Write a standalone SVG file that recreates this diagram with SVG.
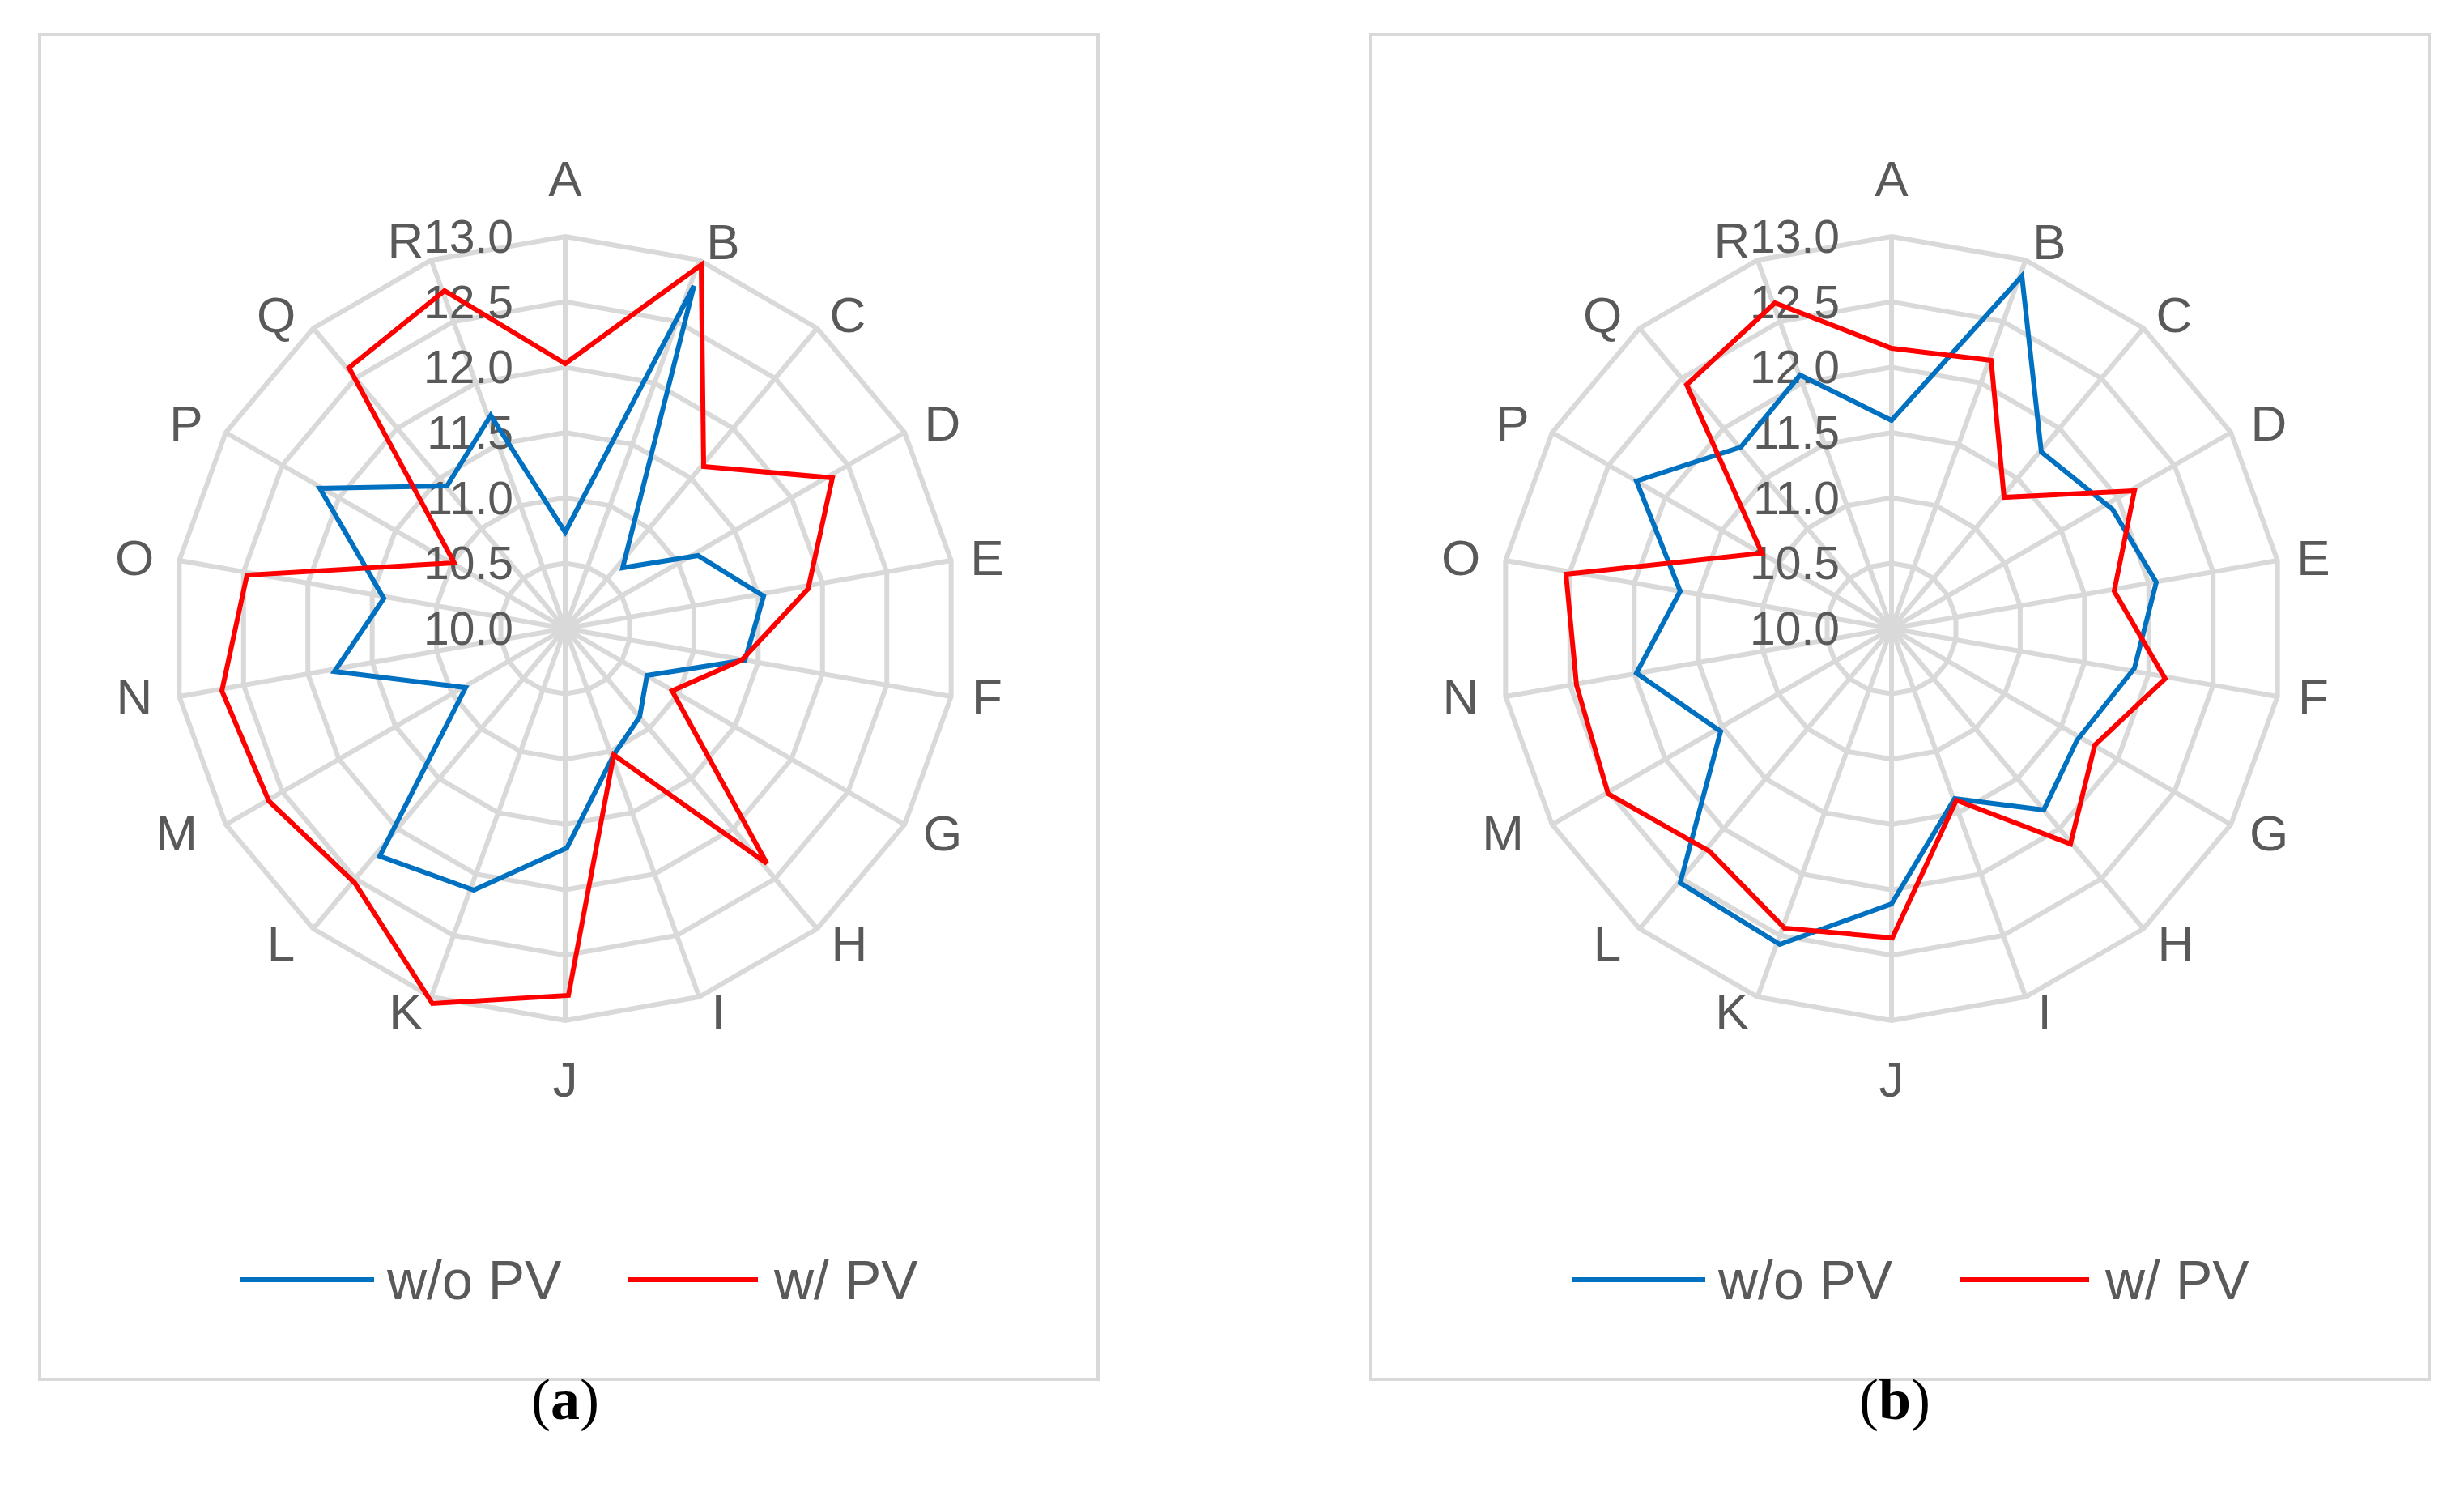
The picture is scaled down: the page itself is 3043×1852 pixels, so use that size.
<svg xmlns="http://www.w3.org/2000/svg" width="3043" height="1852" viewBox="0 0 3043 1852">
<style>
.box{fill:#fff;stroke:#d9d9d9;stroke-width:4}
.grid{fill:none;stroke:#d9d9d9;stroke-width:6}
.cat{font-family:"Liberation Sans",Arial,sans-serif;font-size:62px;fill:#595959;text-anchor:middle;dominant-baseline:central}
.ax{font-family:"Liberation Sans",Arial,sans-serif;font-size:57px;fill:#595959;text-anchor:end;dominant-baseline:central}
.leg{font-family:"Liberation Sans",Arial,sans-serif;font-size:68px;fill:#595959;dominant-baseline:central}
.blue{fill:none;stroke:#0070c0;stroke-width:6;stroke-linejoin:miter}
.red{fill:none;stroke:#ff0000;stroke-width:6;stroke-linejoin:miter}
.cap{font-family:"Liberation Serif","Times New Roman",serif;font-size:72px;fill:#000;text-anchor:middle;dominant-baseline:central}
</style>
<defs>
<polygon id="ring" points="0,-1 0.342,-0.9397 0.6428,-0.766 0.866,-0.5 0.9848,-0.1736 0.9848,0.1736 0.866,0.5 0.6428,0.766 0.342,0.9397 0,1 -0.342,0.9397 -0.6428,0.766 -0.866,0.5 -0.9848,0.1736 -0.9848,-0.1736 -0.866,-0.5 -0.6428,-0.766 -0.342,-0.9397" class="grid" vector-effect="non-scaling-stroke"/>
<g id="radar">
<g transform="scale(80.67)"><use href="#ring"/></g>
<g transform="scale(161.33)"><use href="#ring"/></g>
<g transform="scale(242)"><use href="#ring"/></g>
<g transform="scale(322.67)"><use href="#ring"/></g>
<g transform="scale(403.33)"><use href="#ring"/></g>
<g transform="scale(484)"><use href="#ring"/></g>
<path class="grid" d="M0,0L0,-484M0,0L165.5,-454.8M0,0L311.1,-370.7M0,0L419.1,-242M0,0L476.6,-84M0,0L476.6,84M0,0L419.1,242M0,0L311.1,370.7M0,0L165.5,454.8M0,0L0,484M0,0L-165.5,454.8M0,0L-311.1,370.7M0,0L-419.1,242M0,0L-476.6,84M0,0L-476.6,-84M0,0L-419.1,-242M0,0L-311.1,-370.7M0,0L-165.5,-454.8"/>
<text class="cat" x="0" y="-556">A</text><text class="cat" x="195" y="-478">B</text><text class="cat" x="349" y="-388">C</text><text class="cat" x="466" y="-254">D</text><text class="cat" x="521" y="-88">E</text><text class="cat" x="521" y="84">F</text><text class="cat" x="466" y="252">G</text><text class="cat" x="351" y="388">H</text><text class="cat" x="189" y="472">I</text><text class="cat" x="0" y="556">J</text><text class="cat" x="-197" y="472">K</text><text class="cat" x="-351" y="388">L</text><text class="cat" x="-480" y="252">M</text><text class="cat" x="-532" y="84">N</text><text class="cat" x="-532" y="-88">O</text><text class="cat" x="-468" y="-254">P</text><text class="cat" x="-357" y="-388">Q</text><text class="cat" x="-197" y="-480">R</text>
<text class="ax" x="-64" y="0">10.0</text><text class="ax" x="-64" y="-81">10.5</text><text class="ax" x="-64" y="-161">11.0</text><text class="ax" x="-64" y="-242">11.5</text><text class="ax" x="-64" y="-323">12.0</text><text class="ax" x="-64" y="-403">12.5</text><text class="ax" x="-64" y="-484">13.0</text>
</g>
</defs>
<rect width="3043" height="1852" fill="#fff"/>
<g id="chart-a">
<rect class="box" x="49" y="43" width="1307" height="1660"/>
<use href="#radar" x="698" y="776"/>
</g>
<g id="chart-b">
<rect class="box" x="1693" y="43" width="1307" height="1660"/>
<use href="#radar" x="2336" y="776"/>
</g>
<g id="connectors">
<polygon class="blue" points="698,657 857,353 769,701 862,686 943,736 920,815 799,834 790,885 758,932 700,1047 585,1099 469,1057 575,849 413,829 474,739 395,603 552,600 606,513"/>
<polygon class="red" points="698,449 866,327 869,576 1028,590 998,727 916,815 830,853 947,1066 758,932 702,1229 534,1239 438,1090 332,989 274,853 305,710 561,695 431,454 549,359"/>
<polygon class="blue" points="2336,519 2497,341 2521,558 2609,629 2663,719 2636,825 2565,914 2524,1000 2414,986 2336,1116 2198,1166 2075,1090 2125,903 2021,831 2075,730 2021,594 2150,552 2223,463"/>
<polygon class="red" points="2336,430 2459,445 2475,614 2636,606 2611,730 2674,838 2587,920 2557,1042 2416,988 2337,1158 2204,1146 2111,1051 1986,980 1947,846 1934,709 2176,683 2083,475 2192,374"/>
</g>
<g id="legend-a">
<line class="blue" x1="297" y1="1580" x2="462" y2="1580"/><text class="leg" x="478" y="1580">w/o PV</text>
<line class="red" x1="776" y1="1580" x2="936" y2="1580"/><text class="leg" x="956" y="1580">w/ PV</text>
</g>
<g id="legend-b">
<line class="blue" x1="1941" y1="1580" x2="2106" y2="1580"/><text class="leg" x="2122" y="1580">w/o PV</text>
<line class="red" x1="2420" y1="1580" x2="2580" y2="1580"/><text class="leg" x="2600" y="1580">w/ PV</text>
</g>
<text class="cap" x="698" y="1728">(<tspan font-weight="bold">a</tspan>)</text>
<text class="cap" x="2340" y="1728">(<tspan font-weight="bold">b</tspan>)</text>
</svg>
